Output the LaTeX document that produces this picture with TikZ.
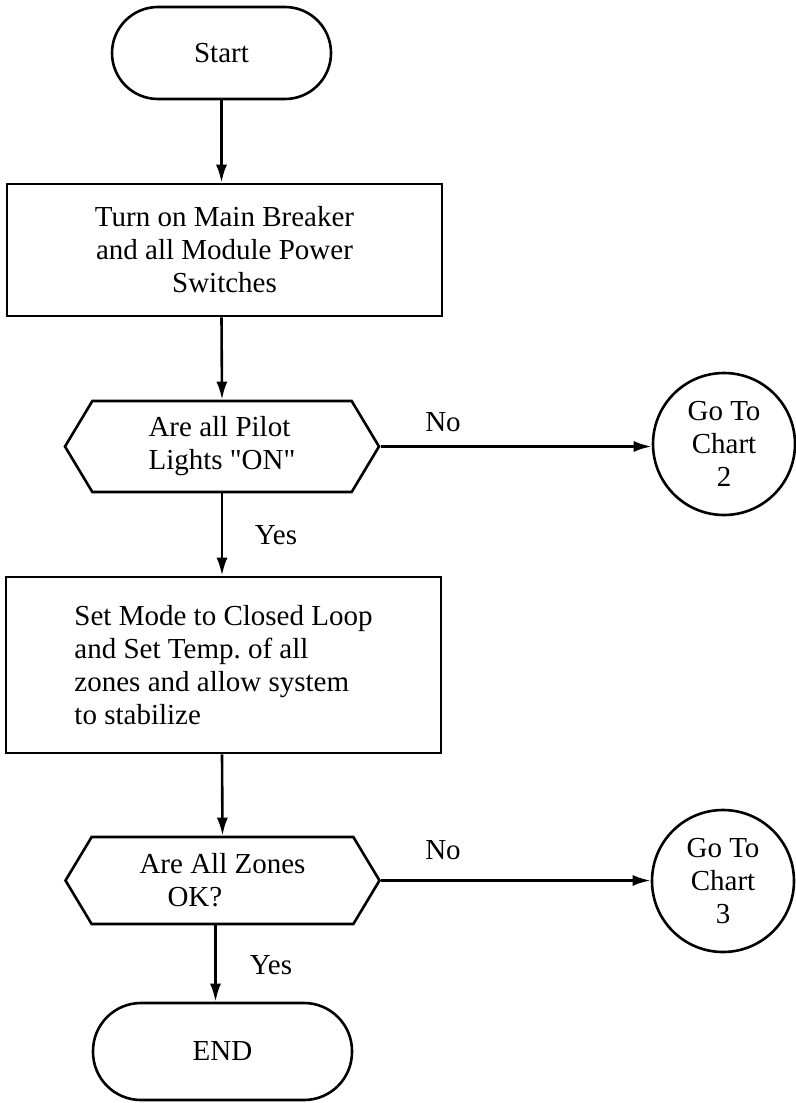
\documentclass[tikz,border=0pt]{standalone}
\usepackage{fontspec}
\setmainfont{Liberation Serif}
\usetikzlibrary{shapes,arrows.meta,positioning,calc}
\frenchspacing

\tikzset{
  every node/.style={font=\fontsize{14.5}{16.5}\selectfont},
  term/.style={draw, rectangle, rounded corners=23pt, line width=1.3pt},
  proc/.style={draw, rectangle, line width=1.3pt, minimum width=217.5pt},
  decide/.style={draw, signal, signal to=east and west, signal pointer angle=118, line width=1.3pt, minimum width=157pt, align=left},
  goto/.style={draw, circle, line width=1.3pt, minimum size=71pt, inner sep=0pt, align=center},
  flow/.style={-{Latex[length=9pt,width=5.5pt]}, line width=1.3pt}
}

\begin{document}
\begin{tikzpicture}[x=0.5pt,y=-0.5pt]
\useasboundingbox (0,0) rectangle (796,1103);
\node[term, minimum width=109.5pt, minimum height=46pt] (start) at (221.5,53) {Start};
\node[proc, minimum height=66pt, align=center] (box1) at (224.5,250) {Turn on Main Breaker\\and all Module Power\\Switches};
\node[decide, minimum height=45.5pt] (q1) at (222,446.5) {Are all Pilot\\Lights \textquotedbl ON\textquotedbl};
\node[goto] (c2) at (724,444) {Go To\\Chart\\2};
\node[proc, minimum height=88pt, align=left] (box2) at (223.5,665) {Set Mode to Closed Loop\\and Set Temp. of all\\zones and allow system\\to stabilize};
\node[decide, minimum height=43.5pt] (q2) at (222.5,880.5) {Are All Zones\\\hspace*{14pt}OK?};
\node[goto] (c3) at (723,881) {Go To\\Chart\\3};
\node[term, rounded corners=24pt, minimum width=129.5pt, minimum height=48.5pt] (stop) at (222.5,1051.5) {END};

\node (no1) at (443,422) {No};
\node (yes1) at (276,535) {Yes};
\node (no2) at (443,850) {No};
\node (yes2) at (271,965) {Yes};

\draw[flow] (start.south) -- (start.south |- box1.north);
\draw[flow] (box1.south -| start.south) -- (q1.north);
\draw[flow] (q1.east) -- (q1.east -| c2.west);
\draw[flow] (q1.south) -- (q1.south |- box2.north);
\draw[flow] (box2.south -| q1.south) -- (q2.north);
\draw[flow] (q2.east) -- (q2.east -| c3.west);
\draw[flow] ([xshift=-3.5pt]q2.south) -- ([xshift=-3.5pt]q2.south |- stop.north);
\end{tikzpicture}
\end{document}
